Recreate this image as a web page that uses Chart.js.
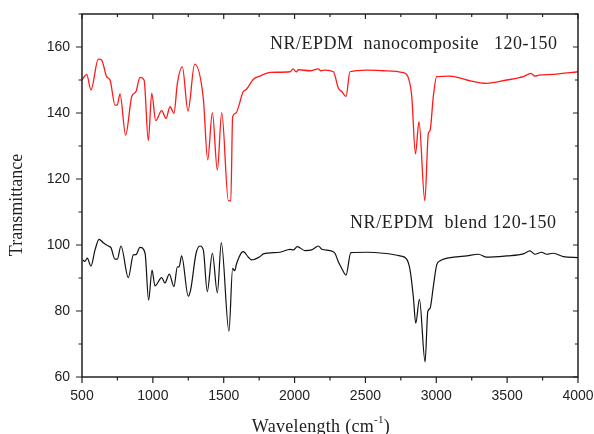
<!DOCTYPE html>
<html>
<head>
<meta charset="utf-8">
<script src="https://cdn.jsdelivr.net/npm/chart.js@4/dist/chart.umd.min.js"></script>
<style>
  html, body { margin: 0; padding: 0; background: #fff; }
  #wrap { width: 594px; height: 434px; position: relative; }
</style>
</head>
<body>
<div id="wrap"><canvas id="ftirChart" width="594" height="434"></canvas></div>
<script>
// FTIR spectra, values
const nanoX = [500, 533, 563, 615, 639, 674, 698, 733, 749, 768, 808, 851, 881, 909, 938, 968, 992, 1020, 1062, 1093, 1121, 1149, 1173, 1208, 1248, 1295, 1356, 1387, 1420, 1455, 1486, 1533, 1550, 1563, 1584, 1638, 1661, 1709, 1756, 1827, 1968, 1990, 2012, 2027, 2109, 2168, 2184, 2215, 2274, 2309, 2333, 2363, 2391, 2509, 2627, 2768, 2804, 2827, 2853, 2878, 2919, 2944, 2956, 2979, 3003, 3097, 3215, 3356, 3497, 3614, 3668, 3696, 3725, 3826, 4000];
const nanoY = [150.0, 151.7, 147.0, 156.3, 156.0, 151.0, 150.0, 142.4, 142.4, 145.8, 133.3, 145.0, 146.5, 150.8, 150.0, 131.6, 146.0, 137.7, 140.7, 138.4, 141.9, 139.9, 149.0, 154.0, 140.6, 154.8, 144.4, 125.8, 140.1, 122.7, 140.1, 113.4, 113.4, 138.9, 139.9, 146.5, 147.2, 150.2, 151.2, 152.3, 152.5, 153.4, 152.5, 153.1, 152.8, 153.4, 152.8, 153.0, 152.5, 147.5, 146.5, 145.0, 152.5, 153.0, 152.8, 152.2, 150.5, 145.0, 127.6, 137.4, 113.4, 133.8, 134.7, 145.0, 151.0, 151.2, 150.0, 149.0, 150.0, 151.0, 152.0, 151.2, 151.5, 151.7, 152.5];

const blendX = [505, 520, 537, 563, 592, 620, 650, 686, 704, 733, 749, 775, 827, 862, 881, 909, 945, 970, 994, 1015, 1062, 1085, 1116, 1149, 1173, 1185, 1203, 1250, 1267, 1305, 1333, 1356, 1384, 1420, 1455, 1483, 1537, 1563, 1577, 1591, 1627, 1638, 1674, 1697, 1756, 1780, 1897, 1968, 1991, 2019, 2074, 2121, 2168, 2192, 2250, 2285, 2309, 2333, 2363, 2397, 2509, 2627, 2744, 2791, 2815, 2838, 2855, 2881, 2921, 2940, 2956, 2979, 3003, 3027, 3121, 3215, 3297, 3356, 3497, 3614, 3661, 3696, 3743, 3779, 3826, 3896, 4000];
const blendY = [95.5, 95.0, 96.0, 93.6, 98.5, 101.7, 100.7, 99.7, 99.2, 95.7, 95.7, 99.7, 90.1, 97.0, 97.1, 99.3, 97.5, 83.3, 92.4, 87.6, 90.1, 88.5, 91.2, 87.4, 93.4, 93.4, 96.7, 84.5, 86.5, 97.5, 99.7, 98.5, 85.9, 97.5, 85.5, 100.7, 73.9, 92.9, 92.2, 94.4, 97.8, 98.0, 96.3, 95.5, 96.5, 97.3, 97.8, 98.7, 98.5, 99.5, 98.3, 98.5, 99.7, 98.7, 98.3, 97.5, 94.9, 92.9, 90.9, 97.7, 97.8, 97.5, 96.7, 95.7, 92.4, 84.3, 76.3, 83.5, 64.6, 79.8, 80.8, 87.4, 94.0, 95.2, 96.3, 96.7, 97.2, 96.3, 96.7, 97.3, 98.2, 97.2, 97.8, 97.2, 97.5, 96.5, 96.2];

const xTicks = [500, 1000, 1500, 2000, 2500, 3000, 3500, 4000];
const xMinorTicks = [750, 1250, 1750, 2250, 2750, 3250, 3750];
const yTicks = [60, 80, 100, 120, 140, 160];
const yMinorTicks = [70, 90, 110, 130, 150, 170];

const seriesLabels = ['NR/EPDM  nanocomposite   120-150', 'NR/EPDM  blend 120-150'];
const xTitle = 'Wavelength (cm';
const xTitleSup = '-1';
const yTitle = 'Transmittance';

const INK = '#222';
const SERIF = '"Liberation Serif", "Times New Roman", serif';
const SANS = '"Liberation Sans", Arial, sans-serif';

function toPoints(xs, ys) {
    return xs.map((x, i) => ({ x: x, y: ys[i] }));
}

// fixed box sizes, and no extra room asked for overhanging labels
function fixBox(s, w, h) {
    if (w != null) s.width = w;
    if (h != null) s.height = h;
    s.paddingLeft = 0;
    s.paddingRight = 0;
    s.paddingTop = 0;
    s.paddingBottom = 0;
}

// frame with outward ticks on bottom/left, inward on top/right, plus texts
const framePlugin = {
    id: 'frame',
    afterDraw(chart) {
        const ctx = chart.ctx;
        const a = chart.chartArea;
        const xs = chart.scales.x;
        const ys = chart.scales.y;
        ctx.save();
        ctx.strokeStyle = INK;
        ctx.lineWidth = 1.5;
        ctx.strokeRect(a.left, a.top, a.right - a.left, a.bottom - a.top);

        ctx.lineWidth = 1.2;
        ctx.beginPath();
        xTicks.forEach(v => {
            const px = xs.getPixelForValue(v);
            ctx.moveTo(px, a.bottom); ctx.lineTo(px, a.bottom + 6);
            ctx.moveTo(px, a.top); ctx.lineTo(px, a.top + 5);
        });
        xMinorTicks.forEach(v => {
            const px = xs.getPixelForValue(v);
            ctx.moveTo(px, a.bottom); ctx.lineTo(px, a.bottom + 3.5);
            ctx.moveTo(px, a.top); ctx.lineTo(px, a.top + 3);
        });
        yTicks.forEach(v => {
            const py = ys.getPixelForValue(v);
            ctx.moveTo(a.left, py); ctx.lineTo(a.left - 6, py);
            ctx.moveTo(a.right, py); ctx.lineTo(a.right - 5, py);
        });
        yMinorTicks.forEach(v => {
            const py = ys.getPixelForValue(v);
            ctx.moveTo(a.left, py); ctx.lineTo(a.left - 3.5, py);
            ctx.moveTo(a.right, py); ctx.lineTo(a.right - 3, py);
        });
        ctx.stroke();

        ctx.fillStyle = INK;
        ctx.textBaseline = 'alphabetic';
        ctx.textAlign = 'left';
        ctx.font = '18px ' + SERIF;
        ctx.letterSpacing = '0.5px';
        ctx.fillText(seriesLabels[0], 270, 49);
        ctx.letterSpacing = '0.6px';
        ctx.fillText(seriesLabels[1], 350, 228);

        // x axis title with superscript
        ctx.letterSpacing = '0.3px';
        ctx.font = '18px ' + SERIF;
        const w1 = ctx.measureText(xTitle).width;
        ctx.font = '11px ' + SERIF;
        const w2 = ctx.measureText(xTitleSup).width;
        ctx.font = '18px ' + SERIF;
        const w3 = ctx.measureText(')').width;
        let tx = 321 - (w1 + w2 + w3) / 2;
        const ty = 432;
        ctx.fillText(xTitle, tx, ty);
        tx += w1;
        ctx.font = '11px ' + SERIF;
        ctx.fillText(xTitleSup, tx, ty - 9);
        tx += w2;
        ctx.font = '18px ' + SERIF;
        ctx.fillText(')', tx, ty);

        // y axis title
        ctx.letterSpacing = '0px';
        ctx.translate(22, 205);
        ctx.rotate(-Math.PI / 2);
        ctx.textAlign = 'center';
        ctx.fillText(yTitle, 0, 0);
        ctx.restore();
    }
};

function initFtirChart() {
    const canvas = document.getElementById('ftirChart');
    new Chart(canvas, {
        type: 'line',
        data: {
            datasets: [{
                label: seriesLabels[0],
                data: toPoints(nanoX, nanoY),
                borderColor: '#ff1a1a',
                borderWidth: 1.3,
                pointRadius: 0,
                cubicInterpolationMode: 'monotone',
                fill: false
            }, {
                label: seriesLabels[1],
                data: toPoints(blendX, blendY),
                borderColor: '#111',
                borderWidth: 1.2,
                pointRadius: 0,
                cubicInterpolationMode: 'monotone',
                fill: false
            }]
        },
        options: {
            responsive: false,
            animation: false,
            devicePixelRatio: 1,
            layout: { padding: { top: 14, right: 16, left: 0, bottom: 0 } },
            plugins: {
                legend: { display: false },
                tooltip: { enabled: false }
            },
            scales: {
                x: {
                    type: 'linear',
                    min: 500,
                    max: 4000,
                    afterFit: (s) => fixBox(s, null, 57),
                    afterBuildTicks: (s) => { s.ticks = xTicks.map(v => ({ value: v })); },
                    grid: { display: false, drawTicks: false },
                    border: { display: false },
                    ticks: {
                        color: INK,
                        padding: 11,
                        maxRotation: 0,
                        callback: (v) => String(v),
                        font: { family: SANS, size: 14 }
                    }
                },
                y: {
                    min: 60,
                    max: 170,
                    afterFit: (s) => fixBox(s, 82, null),
                    afterBuildTicks: (s) => { s.ticks = yTicks.map(v => ({ value: v })); },
                    grid: { display: false, drawTicks: false },
                    border: { display: false },
                    ticks: {
                        color: INK,
                        padding: 12,
                        callback: (v) => String(v),
                        font: { family: SANS, size: 14 }
                    }
                }
            }
        },
        plugins: [framePlugin]
    });
}
initFtirChart();
</script>
</body>
</html>
